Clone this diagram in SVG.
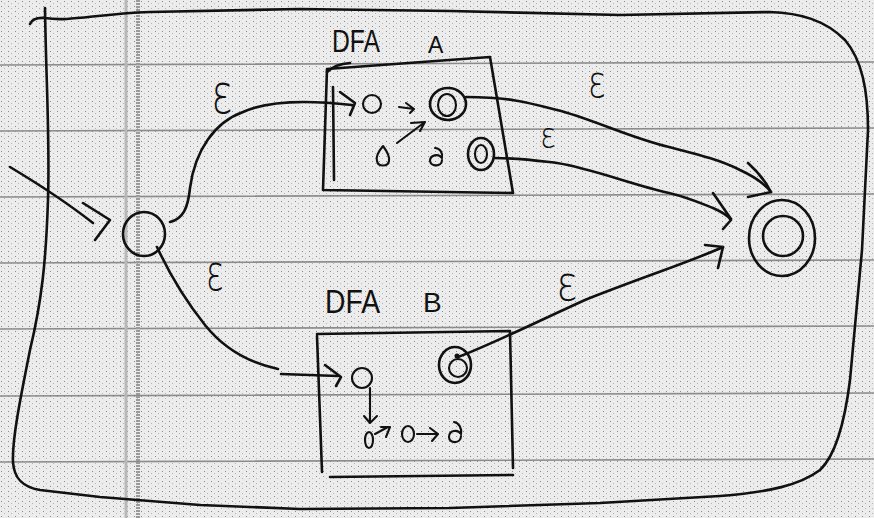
<svg xmlns="http://www.w3.org/2000/svg" width="874" height="518" viewBox="0 0 874 518">
<defs>
<pattern id="paper" width="7" height="5" patternUnits="userSpaceOnUse">
<rect width="7" height="5" fill="#ececec"/>
<rect x="1" y="1" width="1" height="1" fill="#8a8a8a"/>
<rect x="4" y="3" width="1" height="1" fill="#b4b4b4"/>
</pattern>
<style>
.ink{fill:none;stroke:#111;stroke-width:2.6;stroke-linecap:round;stroke-linejoin:round}
.fine{stroke-width:2.1}
.rule{stroke:#8c8c8c;stroke-width:1.6;fill:none}
.lbl{font-family:"Liberation Sans",Arial,sans-serif;fill:#111}
.eps{font-family:"DejaVu Sans","Liberation Sans",sans-serif;font-weight:200;fill:#111;text-anchor:middle}
</style>
</defs>
<rect width="874" height="518" fill="url(#paper)"/>
<g id="paper-lines">
<path class="rule" d="M0,65 L874,62 M0,131 L874,128 M0,197 L874,194 M0,263 L874,260 M0,329 L874,326 M0,396 L874,393 M0,462 L874,459"/>
<line x1="126" y1="0" x2="126" y2="518" stroke="#b8b8b8" stroke-width="3"/>
<line x1="138" y1="0" x2="138" y2="518" stroke="#9a9a9a" stroke-width="4" stroke-dasharray="2 1"/>
</g>
<g id="outer-boundary">
<path class="ink" d="M45,8 C46,80 50,140 48,200 C46,260 42,300 30,350 C20,400 12,440 13,462 C14,478 22,487 40,490 L100,497 L200,505 L300,509 L450,508 L600,503 L720,496 C770,492 800,485 820,470 C836,455 845,420 850,380 L862,250 L868,130 C868,90 862,60 845,40 C825,20 800,13 770,12 L620,15 L450,11 L300,9 L150,12 C95,14 70,22 45,18 Q33,17 30,24"/>
</g>
<g id="connectors">
<path class="ink" d="M10,167 C40,185 70,205 93,223"/>
<path class="ink" d="M83,203 L110,220 L95,240"/>
<path class="ink" d="M170,222 C183,219 188,208 190,188 C195,150 215,122 243,112 C265,102 300,99 352,105"/>
<path class="ink" d="M340,92 L355,103 L350,115"/>
<path class="ink" d="M157,247 C170,275 185,300 205,325 C225,350 250,363 278,369"/>
<path class="ink" d="M281,374 L338,376"/>
<path class="ink" d="M325,365 L341,377 L336,386"/>
<path class="ink" d="M466,97 C510,97 530,103 557,110 C590,118 630,138 669,147 C700,155 720,160 740,170 C755,177 765,184 771,192"/>
<path class="ink" d="M748,163 C758,172 766,182 771,192 L748,197"/>
<path class="ink" d="M494,158 C520,158 540,161 557,163 C590,168 630,184 669,193 C690,198 705,205 713,208 C722,212 728,215 731,220 L723,229"/>
<path class="ink" d="M713,193 L731,219"/>
<path class="ink" d="M458,357 C490,345 530,325 585,300 C640,278 690,262 723,247"/>
<path class="ink" d="M705,245 L723,247 L718,268"/>
</g>
<g id="edge-labels">
<text class="eps" transform="translate(222,113) scale(1,1.4)" font-size="40">ε</text>
<text class="eps" transform="translate(597,97) scale(1,1.3)" font-size="34">ε</text>
<text class="eps" transform="translate(548,148) scale(1,1.2)" font-size="30">ε</text>
<text class="eps" transform="translate(215,290) scale(1,1.45)" font-size="34">ε</text>
<text class="eps" transform="translate(567,300) scale(1,1.2)" font-size="40">ε</text>
</g>
<g id="start">
<ellipse class="ink" cx="144" cy="234" rx="21" ry="22"/>
</g>
<g id="dfaA">
<text class="lbl" x="332" y="52" font-size="32" textLength="48" lengthAdjust="spacingAndGlyphs">DFA</text>
<text class="lbl" x="428" y="53" font-size="23">A</text>
<path class="ink" d="M327,69 L490,57 L513,193 L323,190 L327,69"/>
<path class="ink" d="M333,87 L334,180 M327,72 Q335,64 350,63"/>
<circle class="ink fine" cx="372" cy="104" r="9"/>
<path class="ink fine" d="M399,107 L414,109 M406,103 L414,109 L410,113"/>
<ellipse class="ink" cx="448" cy="104" rx="18" ry="16"/>
<ellipse class="ink fine" cx="447" cy="105" rx="9" ry="11"/>
<path class="ink fine" d="M397,143 L425,122 M411,123 L425,122 L420,131"/>
<path class="ink fine" d="M383,146 C378,152 376,158 377,161 C378,167 388,167 389,161 C390,156 386,150 383,146 Z"/>
<path class="ink fine" d="M442,160 C442,167 431,167 430,161 C430,155 438,153 442,158 C443,153 440,148 435,148"/>
<ellipse class="ink" cx="481" cy="154" rx="13" ry="16"/>
<ellipse class="ink fine" cx="481" cy="154" rx="6" ry="9"/>
</g>
<g id="dfaB">
<text class="lbl" x="325" y="313" font-size="34" textLength="55" lengthAdjust="spacingAndGlyphs">DFA</text>
<text class="lbl" x="423" y="312" font-size="28">B</text>
<path class="ink" d="M317,336 L322,472 M317,334 L510,331 L513,468 M330,477 L513,475"/>
<circle class="ink fine" cx="362" cy="378" r="10"/>
<ellipse class="ink" cx="455" cy="365" rx="16" ry="18"/>
<circle class="ink fine" cx="458" cy="368" r="9"/>
<circle cx="457" cy="356" r="2.5" fill="#111"/>
<path class="ink fine" d="M370,388 L370,422 M364,416 L370,423 L377,416"/>
<ellipse class="ink fine" cx="369" cy="440" rx="4" ry="8"/>
<path class="ink fine" d="M375,434 L388,427 M381,427 L390,427 L386,437"/>
<ellipse class="ink fine" cx="408" cy="434" rx="6" ry="8"/>
<path class="ink fine" d="M417,434 L438,434 M430,428 L438,434 L432,441"/>
<path class="ink fine" d="M461,436 C461,444 449,444 449,437 C449,430 458,429 461,434 C462,428 459,423 454,422"/>
</g>
<g id="final">
<ellipse class="ink" cx="782" cy="238" rx="33" ry="38"/>
<circle class="ink" cx="783" cy="236" r="20"/>
</g>
</svg>
